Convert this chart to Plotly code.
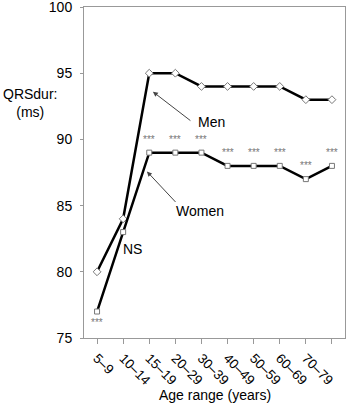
import plotly.graph_objects as go

age_ranges = ["5–9", "10–14", "15–19", "20–29", "30–39", "40–49", "50–59", "60–69", "70–79", "80–89"]
men = [80, 84, 95, 95, 94, 94, 94, 94, 93, 93]
women = [77, 83, 89, 89, 89, 88, 88, 88, 87, 88]
sig_labels = ["***", "", "***", "***", "***", "***", "***", "***", "***", "***"]
sig_y = [76.15, None, 90, 90, 90, 89, 89, 89, 88, 89]

FONT = "Liberation Sans, Arial"

fig = go.Figure()
fig.add_trace(go.Scatter(
    x=list(range(len(age_ranges))), y=men, mode="lines+markers", name="Men",
    line=dict(color="black", width=2.5),
    marker=dict(symbol="diamond", size=6, color="white", line=dict(color="#777", width=1)),
))
fig.add_trace(go.Scatter(
    x=list(range(len(age_ranges))), y=women, mode="lines+markers", name="Women",
    line=dict(color="black", width=2.5),
    marker=dict(symbol="square", size=5, color="white", line=dict(color="#777", width=1)),
))

annotations = []
for i, (lab, yy) in enumerate(zip(sig_labels, sig_y)):
    if lab and yy is not None:
        annotations.append(dict(x=i, y=yy, xref="x", yref="y", text=lab, showarrow=False,
                                font=dict(family=FONT, size=10, color="#777777")))

annotations += [
    dict(x=2.14, y=93.6, xref="x", yref="y", ax=39, ay=30, text="", showarrow=True,
         arrowhead=2, arrowsize=1, arrowwidth=1, arrowcolor="#444"),
    dict(x=1.91, y=87.58, xref="x", yref="y", ax=30, ay=32, text="", showarrow=True,
         arrowhead=2, arrowsize=1, arrowwidth=1, arrowcolor="#444"),
    dict(x=4.37, y=91.34, xref="x", yref="y", text="Men", showarrow=False,
         font=dict(family=FONT, size=14, color="black")),
    dict(x=3.94, y=84.56, xref="x", yref="y", text="Women", showarrow=False,
         font=dict(family=FONT, size=14, color="black")),
    dict(x=1.34, y=81.7, xref="x", yref="y", text="NS", showarrow=False,
         font=dict(family=FONT, size=14, color="black")),
    # y-axis title (horizontal, left of axis)
    dict(x=-0.207, y=0.71, xref="paper", yref="paper", text="QRSdur:<br>(ms)", showarrow=False,
         xanchor="center", yanchor="middle", font=dict(family=FONT, size=14, color="black")),
    # x-axis title
    dict(x=0.5, y=-0.173, xref="paper", yref="paper", text="Age range (years)", showarrow=False,
         xanchor="center", yanchor="middle", font=dict(family=FONT, size=14, color="black")),
]

fig.update_layout(
    width=360, height=403,
    margin=dict(l=84, r=15, t=7, b=65, autoexpand=False),
    paper_bgcolor="white", plot_bgcolor="white",
    showlegend=False,
    font=dict(family=FONT, size=13, color="black"),
    annotations=annotations,
    xaxis=dict(
        tickmode="array", tickvals=list(range(len(age_ranges))), ticktext=age_ranges,
        range=[-0.5, 9.5], tickangle=45, showgrid=False, zeroline=False,
        showline=True, linecolor="#999", linewidth=1, mirror=True,
        ticks="outside", ticklen=5, tickcolor="#999", tickson="boundaries",
        tickfont=dict(size=13.5), automargin=False, ticklabelstandoff=1,
    ),
    yaxis=dict(
        range=[75, 100], tickvals=[75, 80, 85, 90, 95, 100], showgrid=False, zeroline=False,
        showline=True, linecolor="#999", linewidth=1, mirror=True,
        ticks="outside", ticklen=3, tickcolor="#999", tickfont=dict(size=14), automargin=False,
        ticklabeloverflow="allow", ticklabelstandoff=5,
    ),
)

fig.write_html("out.html", config={"displayModeBar": False},
               post_script="document.body.style.margin='0';document.body.style.padding='0';")
